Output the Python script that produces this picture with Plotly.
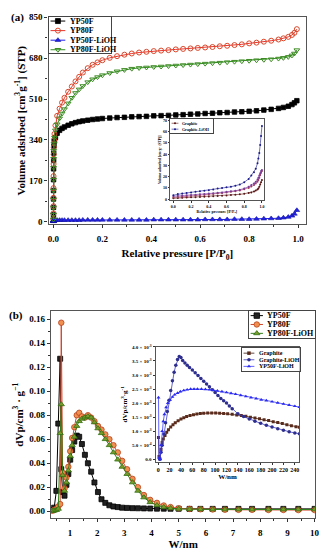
import plotly.graph_objects as go

W_PX, H_PX = 328, 550
SERIF = "Liberation Serif, Times New Roman, serif"

# ---------------- panel (a) data : N2 isotherms ----------------
P_A = [0.00001, 0.00002, 0.00004, 0.00007, 0.0001, 0.0002, 0.0004, 0.0007, 0.001, 0.002,
       0.004, 0.008, 0.015, 0.025, 0.035, 0.045, 0.06, 0.075, 0.09, 0.105,
       0.12, 0.14, 0.16, 0.18, 0.20, 0.23, 0.26, 0.29, 0.32, 0.35,
       0.38, 0.41, 0.44, 0.47, 0.50, 0.53, 0.56, 0.59, 0.62, 0.65,
       0.68, 0.71, 0.74, 0.77, 0.80, 0.83, 0.86, 0.89, 0.92, 0.94,
       0.96, 0.975, 0.985, 0.995]
V_YP50F = [10, 30, 60, 95, 130, 175, 220, 255, 285, 315,
           335, 350, 368, 380, 388, 394, 401, 407, 412, 416,
           419, 422, 425, 427, 429, 431, 433, 434, 436, 437,
           438, 440, 441, 442, 444, 445, 447, 448, 450, 451,
           453, 454, 456, 457, 459, 461, 464, 467, 471, 475,
           480, 487, 494, 503]
V_YP80F = [12, 35, 65, 100, 140, 190, 240, 280, 310, 340,
           365, 400, 440, 470, 495, 515, 540, 562, 583, 602,
           620, 638, 652, 662, 671, 681, 688, 694, 699, 703,
           706, 709, 711, 713, 716, 718, 720, 722, 724, 726,
           729, 731, 734, 737, 741, 744, 748, 752, 757, 762,
           768, 776, 785, 800]
V_YP50F_LIOH = [2, 3, 3, 4, 4, 5, 5, 5, 6, 6,
                6, 7, 7, 7, 7, 7, 7, 7, 7, 7,
                8, 8, 8, 8, 8, 8, 8, 8, 8, 8,
                8, 9, 9, 9, 9, 9, 9, 9, 10, 10,
                10, 10, 11, 11, 11, 12, 13, 14, 15, 17,
                20, 25, 33, 48]
V_YP80F_LIOH = [10, 30, 58, 92, 130, 175, 225, 262, 295, 325,
                350, 380, 405, 430, 450, 468, 492, 515, 535, 550,
                564, 580, 592, 601, 609, 618, 625, 631, 636, 639,
                641, 643, 645, 647, 649, 651, 653, 655, 657, 659,
                661, 663, 665, 667, 669, 671, 673, 675, 678, 681,
                685, 691, 699, 713]

# inset of (a): graphite isotherms
P_INSET_A = [0.0, 0.05, 0.1, 0.15, 0.2, 0.25, 0.3, 0.35, 0.4, 0.45,
             0.5, 0.55, 0.6, 0.65, 0.7, 0.75, 0.8, 0.85, 0.88, 0.91,
             0.93, 0.95, 0.96, 0.97, 0.98, 0.99, 1.0]
V_GLIOH_DES = [3.5, 4.5, 5, 5.5, 6, 6.5, 7, 7.5, 8, 8.5,
               9.5, 10, 10.5, 11, 12, 13, 15, 18, 21, 24,
               27, 32, 36, 41, 48, 56, 65]
V_GLIOH_ADS = [2.5, 3, 3.2, 3.5, 3.8, 4, 4.3, 4.6, 5, 5.3,
               5.7, 6, 6.5, 7, 7.5, 8.3, 9.5, 11, 12.5, 14,
               15.5, 17.5, 19, 21, 23, 25, 26]
V_GRAPH_DES = [1.5, 2, 2.3, 2.6, 2.9, 3.2, 3.5, 3.8, 4.2, 4.6,
               5, 5.5, 6, 6.5, 7, 7.8, 8.8, 10, 11.2, 12.5,
               14, 15.5, 17, 19, 21.5, 23.5, 25]
V_GRAPH_ADS = [0.8, 1, 1.2, 1.4, 1.6, 1.8, 2, 2.2, 2.4, 2.6,
               2.8, 3, 3.3, 3.6, 3.9, 4.3, 4.8, 5.5, 6, 6.8,
               7.6, 8.6, 9.5, 11, 13, 15, 17]

# ---------------- panel (b) data : pore size distributions ----------------
W_B = [0.35, 0.42, 0.5, 0.57, 0.64, 0.68, 0.73, 0.8, 0.87, 0.94,
       1.01, 1.08, 1.16, 1.25, 1.34, 1.44, 1.55, 1.66, 1.78, 1.9,
       2.03, 2.16, 2.3, 2.45, 2.6, 2.76, 2.92, 3.1, 3.3, 3.5,
       3.72, 3.95, 4.2, 4.45, 4.7, 5.0, 5.4, 5.8, 6.25, 6.7,
       7.2, 7.7, 8.3, 8.85, 9.4, 10.0]
D_YP50F = [0.001, 0.003, 0.017, 0.073, 0.127, 0.035, 0.016, 0.013, 0.022, 0.031,
           0.043, 0.051, 0.058, 0.063, 0.062, 0.056, 0.047, 0.040, 0.033, 0.024,
           0.016, 0.010, 0.007, 0.005, 0.004, 0.0035, 0.003, 0.0028, 0.0026, 0.0025,
           0.0024, 0.0023, 0.0022, 0.0022, 0.0021, 0.0021, 0.002, 0.002, 0.002, 0.002,
           0.002, 0.002, 0.002, 0.002, 0.002, 0.002]
D_YP80F = [0.0005, 0.001, 0.002, 0.004, 0.006, 0.157, 0.032, 0.019, 0.028, 0.037,
           0.050, 0.061, 0.070, 0.080, 0.082, 0.079, 0.078, 0.080, 0.078, 0.075,
           0.071, 0.068, 0.064, 0.060, 0.055, 0.049, 0.042, 0.035, 0.027, 0.020,
           0.0135, 0.0095, 0.007, 0.0048, 0.0035, 0.0025, 0.002, 0.0017, 0.0015, 0.0013,
           0.0012, 0.0012, 0.0011, 0.0011, 0.001, 0.001]
D_YP80F_LIOH = [0.0003, 0.0005, 0.001, 0.002, 0.065, 0.089, 0.030, 0.017, 0.024, 0.034,
                0.046, 0.055, 0.062, 0.071, 0.075, 0.077, 0.078, 0.079, 0.078, 0.074,
                0.069, 0.065, 0.060, 0.055, 0.049, 0.043, 0.037, 0.031, 0.024, 0.017,
                0.0115, 0.0075, 0.005, 0.0035, 0.0025, 0.002, 0.0017, 0.0016, 0.0015, 0.0015,
                0.0015, 0.0015, 0.0015, 0.0015, 0.0015, 0.0015]

# inset of (b) (values in units of 1e-3 cm3/g, converted below)
W_GRAPHITE = [0.5, 1.5, 3, 5, 7, 9, 12, 15, 18, 22,
              26, 30, 35, 40, 45, 50, 56, 62, 68, 74,
              80, 87, 94, 101, 108, 115, 122, 130, 138, 146,
              154, 162, 170, 178, 186, 194, 202, 210, 218, 226,
              234, 242, 248]
D_GRAPHITE_E3 = [0.78, 0.1, 0.02, 0.35, 0.6, 0.72, 0.85, 0.96, 1.05, 1.15,
                 1.23, 1.3, 1.37, 1.43, 1.48, 1.52, 1.56, 1.59, 1.61, 1.63,
                 1.64, 1.65, 1.65, 1.65, 1.64, 1.63, 1.62, 1.6, 1.58, 1.56,
                 1.53, 1.5, 1.47, 1.44, 1.41, 1.38, 1.34, 1.31, 1.27, 1.23,
                 1.19, 1.16, 1.14]
W_GLIOH = [3, 5, 7, 10, 13, 16, 19, 22, 25, 28,
           31, 34, 37, 40, 43, 47, 51, 55, 60, 65,
           70, 75, 80, 85, 90, 95, 100, 105, 110, 115,
           120, 125, 130, 140, 150, 160, 170, 180, 190, 200,
           210, 220, 230, 240, 248]
D_GLIOH_E3 = [0.0, 0.25, 0.5, 0.9, 1.3, 1.7, 2.1, 2.45, 2.8, 3.1,
              3.35, 3.55, 3.66, 3.62, 3.52, 3.43, 3.35, 3.27, 3.18, 3.08,
              2.98, 2.88, 2.78, 2.68, 2.58, 2.48, 2.38, 2.27, 2.16, 2.08,
              2.0, 1.9, 1.8, 1.62, 1.52, 1.43, 1.35, 1.28, 1.21, 1.15,
              1.09, 1.03, 0.98, 0.94, 0.91]
W_YP50F_LIOH = [0.6, 1.5, 3, 5, 7, 9, 11, 14, 17, 21,
                25, 29, 34, 39, 45, 51, 57, 63, 69, 76,
                83, 90, 97, 104, 112, 120, 128, 136, 145, 154,
                163, 172, 181, 190, 200, 210, 220, 230, 240, 248]
D_YP50F_LIOH_E3 = [2.2, 0.05, 0.0, 0.5, 1.0, 1.35, 1.6, 1.85, 2.0, 2.12,
                   2.22, 2.3, 2.36, 2.41, 2.45, 2.48, 2.5, 2.5, 2.5, 2.5,
                   2.49, 2.48, 2.46, 2.44, 2.41, 2.38, 2.35, 2.32, 2.28, 2.24,
                   2.2, 2.16, 2.12, 2.09, 2.05, 2.01, 1.97, 1.93, 1.89, 1.86]
D_GRAPHITE = [v * 1e-3 for v in D_GRAPHITE_E3]
D_GLIOH = [v * 1e-3 for v in D_GLIOH_E3]
D_YP50F_LIOH = [v * 1e-3 for v in D_YP50F_LIOH_E3]

# tick labels
TICKS_A_Y = [0, 170, 340, 510, 680, 850]
TICKS_B_INSET_Y = [0.0, 0.0005, 0.001, 0.0015, 0.002, 0.0025, 0.003, 0.0035, 0.004]
TICKTEXT_B_INSET_Y = ["0.0", "5.0 × 10<sup>-4</sup>", "1.0 × 10<sup>-3</sup>", "1.5 × 10<sup>-3</sup>",
                      "2.0 × 10<sup>-3</sup>", "2.5 × 10<sup>-3</sup>", "3.0 × 10<sup>-3</sup>",
                      "3.5 × 10<sup>-3</sup>", "4.0 × 10<sup>-3</sup>"]


def px_x(x):
    return x / W_PX


def px_y(y):
    return 1 - y / H_PX


def font(size, color="black"):
    return dict(family=SERIF, size=size, color=color, weight="bold")


fig = go.Figure()

# ---- colours / styles ----
S_YP50F_A = dict(line=dict(color="black", width=1), marker=dict(symbol="square", size=4.5, color="black", line=dict(color="black", width=0.8)))
S_YP80F_A = dict(line=dict(color="#e8342a", width=1), marker=dict(symbol="circle-open", size=5, color="#d9482b", line=dict(width=1)))
S_YP50FL_A = dict(line=dict(color="#1c1cf0", width=1), marker=dict(symbol="triangle-up", size=5, color="#2323e6", line=dict(color="#1010a0", width=0.6)))
S_YP80FL_A = dict(line=dict(color="#2f8f1f", width=1), marker=dict(symbol="triangle-down-open", size=5, color="#3d8a22", line=dict(width=1)))

for name, ys, st in [("YP50F", V_YP50F, S_YP50F_A), ("YP80F", V_YP80F, S_YP80F_A),
                     ("YP50F-LiOH", V_YP50F_LIOH, S_YP50FL_A), ("YP80F-LiOH", V_YP80F_LIOH, S_YP80FL_A)]:
    fig.add_trace(go.Scatter(x=P_A, y=ys, name=name, mode="lines+markers", xaxis="x", yaxis="y",
                             showlegend=False, **st))

# inset (a)
for ys, col in [(V_GRAPH_ADS, "#5a1414"), (V_GRAPH_DES, "#a03a5a"), (V_GLIOH_ADS, "#7a3a9a"), (V_GLIOH_DES, "#1a1a8c")]:
    fig.add_trace(go.Scatter(x=P_INSET_A, y=ys, mode="lines+markers", xaxis="x2", yaxis="y2", showlegend=False,
                             line=dict(color=col, width=0.6), marker=dict(symbol="circle", size=2, color=col)))

# panel (b)
S_YP50F_B = dict(line=dict(color="black", width=1), marker=dict(symbol="square", size=5, color="#222", line=dict(color="black", width=0.8)))
S_YP80F_B = dict(line=dict(color="#d0452a", width=1), marker=dict(symbol="circle", size=5.5, color="#f09050", line=dict(color="#b8401c", width=0.8)))
S_YP80FL_B = dict(line=dict(color="#2f7f1a", width=1), marker=dict(symbol="triangle-up", size=5.5, color="#7a9a2a", line=dict(color="#2f6f10", width=0.8)))
for name, ys, st in [("YP50F", D_YP50F, S_YP50F_B), ("YP80F", D_YP80F, S_YP80F_B), ("YP80F-LiOH", D_YP80F_LIOH, S_YP80FL_B)]:
    fig.add_trace(go.Scatter(x=W_B, y=ys, name=name, mode="lines+markers", xaxis="x3", yaxis="y3",
                             showlegend=False, **st))

# inset (b)
S_GRAPH_B = dict(line=dict(color="#3a1a10", width=0.8), marker=dict(symbol="square", size=3, color="#5a2a1a"))
S_GLIOH_B = dict(line=dict(color="#3b3bc0", width=0.8), marker=dict(symbol="circle", size=3.5, color="#2e2e8e"))
S_YP50FL_B = dict(line=dict(color="#3a3aff", width=0.8), marker=dict(symbol="triangle-up", size=3.5, color="#2a2af0"))
for name, xs, ys, st in [("Graphite", W_GRAPHITE, D_GRAPHITE, S_GRAPH_B), ("Graphite-LiOH", W_GLIOH, D_GLIOH, S_GLIOH_B),
                         ("YP50F-LiOH", W_YP50F_LIOH, D_YP50F_LIOH, S_YP50FL_B)]:
    fig.add_trace(go.Scatter(x=xs, y=ys, name=name, mode="lines+markers", xaxis="x4", yaxis="y4",
                             showlegend=False, **st))

# ---------------- axes ----------------
FRAME = "#555"


def main_axis(**kw):
    d = dict(showline=True, mirror=True, linecolor=FRAME, linewidth=1.3, ticks="outside", ticklen=3,
             tickcolor="#333", showgrid=False, zeroline=False)
    d.update(kw)
    return d


layout = dict(
    width=W_PX, height=H_PX, margin=dict(l=0, r=0, t=0, b=0),
    paper_bgcolor="white", plot_bgcolor="white", showlegend=False,
    xaxis=main_axis(domain=[px_x(48.3), px_x(310)], range=[-0.0201, 1.0335], anchor="y",
                    tick0=0, dtick=0.2, tickformat=".1f", tickfont=font(9), ticklabelstandoff=3,
                    minor=dict(dtick=0.1, ticklen=2, ticks="outside"),
                    title=dict(text="Relative pressure [P/P<sub>0</sub>]", font=font(11), standoff=6)),
    yaxis=main_axis(domain=[px_y(222.5), px_y(12.3)], range=[-10, 850], anchor="x",
                    tickvals=TICKS_A_Y, tickfont=font(9),
                    minor=dict(dtick=85, ticklen=2, ticks="outside"),
                    title=dict(text="Volume adsirbed [cm<sup>3</sup>g<sup>-1</sup>] (STP)", font=font(11), standoff=1)),
    xaxis2=main_axis(domain=[px_x(171.7), px_x(266.7)], range=[-0.037, 1.019], anchor="y2", linewidth=0.8,
                     ticklen=1.5, tick0=0, dtick=0.2, tickformat=".1f", tickfont=font(4),
                     title=dict(text="Relative pressure [P/P<sub>0</sub>]", font=font(4), standoff=1)),
    yaxis2=main_axis(domain=[px_y(198.3), px_y(116)], range=[-1.1, 70.9], anchor="x2", linewidth=0.8,
                     ticklen=1.5, dtick=10, tickfont=font(4),
                     title=dict(text="Volume adsorbed [cm<sup>3</sup>g<sup>-1</sup> (STP)]", font=font(3.5), standoff=1)),
    xaxis3=main_axis(domain=[px_x(50.7), px_x(319.3)], range=[0.3, 10.03], anchor="y3",
                     tick0=0, dtick=1, tickvals=list(range(1, 11)), tickfont=font(9), ticklabelstandoff=3,
                     minor=dict(dtick=0.5, ticklen=2, ticks="outside"),
                     title=dict(text="W/nm", font=font(11), standoff=0)),
    yaxis3=main_axis(domain=[px_y(520.7), px_y(310.7)], range=[-0.0057, 0.1666], anchor="x3",
                     tick0=0, dtick=0.02, tickformat=".2f", tickfont=font(9),
                     minor=dict(dtick=0.01, ticklen=2, ticks="outside"),
                     title=dict(text="dVp/cm<sup>3</sup> · g<sup>−1</sup>", font=font(11), standoff=3)),
    xaxis4=main_axis(domain=[px_x(157), px_x(303)], range=[-4.5, 248], anchor="y4", linewidth=1,
                     ticklen=2, tick0=0, dtick=20, tickfont=font(6),
                     title=dict(text="W/nm", font=font(7), standoff=2)),
    yaxis4=main_axis(domain=[px_y(463.5), px_y(347)], range=[-0.000088, 0.004], anchor="x4", linewidth=1,
                     ticklen=2, tickvals=TICKS_B_INSET_Y, ticktext=TICKTEXT_B_INSET_Y, tickfont=font(5),
                     title=dict(text="dVp/cm<sup>3</sup>·g<sup>-1</sup>", font=font(7), standoff=3)),
)

annotations = [
    dict(text="(a)", x=px_x(16.5), y=px_y(12.5), xref="paper", yref="paper", showarrow=False,
         xanchor="center", yanchor="middle", font=font(11)),
    dict(text="(b)", x=px_x(15.5), y=px_y(315.5), xref="paper", yref="paper", showarrow=False,
         xanchor="center", yanchor="middle", font=font(11)),
]

# ---------------- hand-sized legends (own small axes, pixel units) ----------------
LEGENDS = [
    dict(box=(48.3, 12.3, 112, 49), row0=4, gap=9.7, k0=2, k1=17, tx=19.5, fs=8, msz=5, lw=1,
         entries=[("YP50F", S_YP50F_A), ("YP80F", S_YP80F_A), ("YP50F-LiOH", S_YP50FL_A), ("YP80F-LiOH", S_YP80FL_A)]),
    dict(box=(252, 310.7, 319.3, 338), row0=4.5, gap=9, k0=1.5, k1=14, tx=16.5, fs=8, msz=5.5, lw=1,
         entries=[("YP50F", S_YP50F_B), ("YP80F", S_YP80F_B), ("YP80F-LiOH", S_YP80FL_B)]),
    dict(box=(244.3, 348.3, 303.3, 371.7), row0=5, gap=6.7, k0=2, k1=13, tx=15.5, fs=6, msz=3.5, lw=0.8,
         entries=[("Graphite", S_GRAPH_B), ("Graphite-LiOH", S_GLIOH_B), ("YP50F-LiOH", S_YP50FL_B)]),
    dict(box=(171.7, 116, 215, 130), row0=4, gap=6, k0=1.5, k1=8.5, tx=10, fs=4, msz=2, lw=0.6,
         entries=[("Graphite", dict(line=dict(color="#5a1414", width=0.6), marker=dict(symbol="circle", size=2, color="#5a1414"))),
                  ("Graphite-LiOH", dict(line=dict(color="#1a1a8c", width=0.6), marker=dict(symbol="circle", size=2, color="#1a1a8c")))]),
]

for i, lg in enumerate(LEGENDS):
    n = 5 + i
    xa, ya = f"x{n}", f"y{n}"
    x0, y0, x1, y1 = lg["box"]
    common = dict(showline=True, mirror=True, linecolor="#444", linewidth=0.8, tickmode="array", tickvals=[],
                  showticklabels=False, ticks="", showgrid=False, zeroline=False, fixedrange=True)
    layout[f"xaxis{n}"] = dict(domain=[px_x(x0), px_x(x1)], range=[0, x1 - x0], anchor=ya, **common)
    layout[f"yaxis{n}"] = dict(domain=[px_y(y1), px_y(y0)], range=[y1 - y0, 0], anchor=xa, **common)
    for j, (name, st) in enumerate(lg["entries"]):
        yy = lg["row0"] + j * lg["gap"]
        fig.add_trace(go.Scatter(x=[lg["k0"], lg["k1"]], y=[yy, yy], mode="lines", xaxis=xa, yaxis=ya,
                                 showlegend=False, hoverinfo="skip",
                                 line=dict(color=st["line"]["color"], width=lg["lw"])))
        mk = dict(st["marker"])
        mk["size"] = lg["msz"]
        fig.add_trace(go.Scatter(x=[(lg["k0"] + lg["k1"]) / 2], y=[yy], mode="markers", xaxis=xa, yaxis=ya,
                                 showlegend=False, hoverinfo="skip", marker=mk, cliponaxis=False))
        annotations.append(dict(text=name, x=lg["tx"], y=yy, xref=xa, yref=ya, showarrow=False,
                                xanchor="left", yanchor="middle", font=font(lg["fs"])))

layout["annotations"] = annotations
fig.update_layout(**layout)
fig.write_html("out.html", config={"displayModeBar": False},
               post_script="document.body.style.margin='0';document.body.style.padding='0';"
                           "document.documentElement.style.overflow='hidden';")
